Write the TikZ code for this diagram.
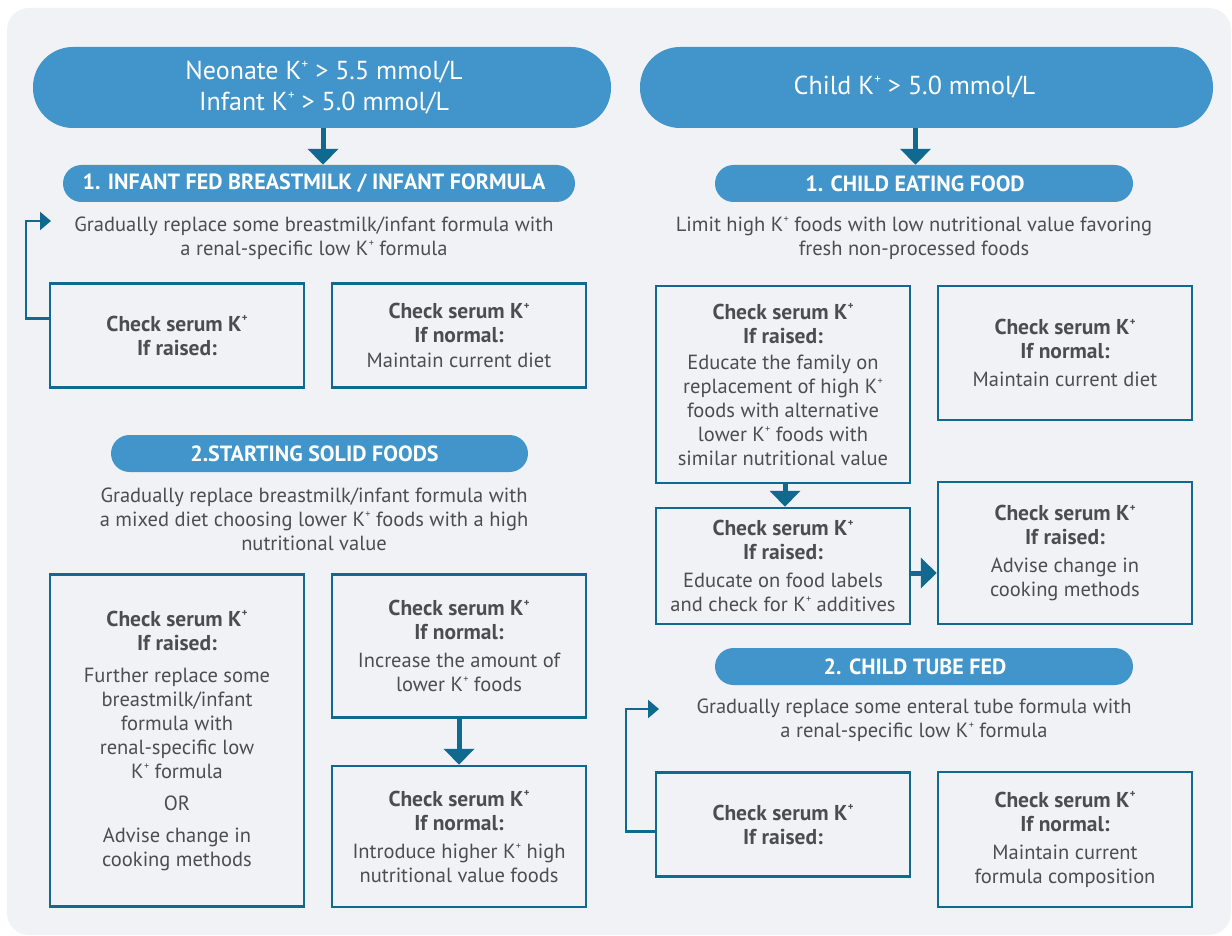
\documentclass[tikz,border=0pt]{standalone}
\usepackage{fontspec}
\setmainfont{PT Sans}
\usetikzlibrary{arrows.meta,calc}
\definecolor{bgc}{HTML}{F0F2F6}
\definecolor{pillc}{HTML}{4195CA}
\definecolor{tealc}{HTML}{106A8F}
\definecolor{txtc}{HTML}{4D4D4F}
\newcommand{\Kplus}{K\kern0.3pt\raisebox{0.85ex}{\scalebox{0.5}{+}}}
\begin{document}
\begin{tikzpicture}[x=1pt,y=-1pt,
  bodyfont/.style={font=\fontsize{20.5}{24}\selectfont},
  box/.style={draw=tealc, line width=2.5pt, text=txtc, align=center, inner sep=0pt, bodyfont},
  pill/.style={fill=pillc, rounded corners=18.5pt, text=white, inner sep=0pt, minimum height=37pt, font=\bfseries\fontsize{22}{24}\selectfont},
  titlepill/.style={fill=pillc, rounded corners=40pt, text=white, align=center, inner sep=0pt, minimum height=81pt, font=\fontsize{26}{31}\selectfont},
  intro/.style={text=txtc, align=center, inner sep=0pt, bodyfont},
  bigarrow/.style={draw=tealc, line width=5pt, -{Triangle[width=30pt,length=16pt]}},
  fbarrow/.style={draw=tealc, line width=2.5pt, -{Triangle[width=18pt,length=11pt]}}
]
\newcommand{\hd}[1]{{\bfseries\fontsize{21.5}{24}\selectfont #1}}
\useasboundingbox (0,0) rectangle (1232,936);
\fill[bgc, rounded corners=22pt] (7,8) rectangle (1231,935);

% left column
\node[titlepill, minimum width=578pt] (t1) at (322,87.5) {\hspace*{4pt}Neonate \Kplus{} > 5.5 mmol/L\\\hspace*{4pt}Infant \Kplus{} > 5.0 mmol/L};
\node[pill, minimum width=512pt] (s1) at (319,183.5) {1. INFANT FED BREASTMILK / INFANT FORMULA\hspace*{10pt}};
\node[intro] (i1) at (314,238) {Gradually replace some breastmilk/infant formula with\\a renal-specific low \Kplus{} formula};
\node[box, minimum width=254pt, minimum height=104pt] (A) at (177,335.5) {\hd{Check serum \Kplus}\\\hd{If raised:}};
\node[box, minimum width=254pt, minimum height=104pt] (B) at (459,335.5) {\hd{Check serum \Kplus}\\\hd{If normal:}\\[1pt]Maintain current diet};
\node[pill, minimum width=417pt] (s2) at (319.5,453.5) {2.STARTING SOLID FOODS\hspace*{10pt}};
\node[intro] (i2) at (314,519) {Gradually replace breastmilk/infant formula with\\a mixed diet choosing lower \Kplus{} foods with a high\\nutritional value};
\node[box, minimum width=254pt, minimum height=332pt] (C) at (177,740.5) {\hd{Check serum \Kplus}\\\hd{If raised:}\\[8pt]Further replace some\\breastmilk/infant\\formula with\\renal-specific low\\\Kplus{} formula\\[8pt]OR\\[8pt]Advise change in\\cooking methods};
\node[box, minimum width=254pt, minimum height=143pt] (D) at (459,646) {\hd{Check serum \Kplus}\\\hd{If normal:}\\[4pt]Increase the amount of\\lower \Kplus{} foods};
\node[box, minimum width=254pt, minimum height=141pt] (E) at (459,836.5) {\hd{Check serum \Kplus}\\\hd{If normal:}\\[4pt]Introduce higher \Kplus{} high\\nutritional value foods};

% right column
\node[titlepill, minimum width=573pt] (t2) at (926.5,87.5) {Child \Kplus{} > 5.0 mmol/L\hspace*{24pt}};
\node[pill, minimum width=418pt] (r1) at (924,183.5) {1. CHILD EATING FOOD\hspace*{18pt}};
\node[intro] (j1) at (914,238) {Limit high \Kplus{} foods with low nutritional value favoring\\fresh non-processed foods};
\node[box, minimum width=254pt, minimum height=197pt] (F) at (783,384.5) {\hd{Check serum \Kplus}\\\hd{If raised:}\\[2pt]Educate the family on\\replacement of high \Kplus\\foods with alternative\\lower \Kplus{} foods with\\similar nutritional value};
\node[box, minimum width=254pt, minimum height=134pt] (G) at (1065,353) {\hd{Check serum \Kplus}\\\hd{If normal:}\\[4pt]Maintain current diet};
\node[box, minimum width=254pt, minimum height=116pt] (H) at (783,566) {\hd{Check serum \Kplus}\\\hd{If raised:}\\[4pt]Educate on food labels\\and check for \Kplus{} additives};
\node[box, minimum width=254pt, minimum height=142pt] (I) at (1065,553) {\hd{Check serum \Kplus}\\\hd{If raised:}\\[4pt]Advise change in\\cooking methods};
\node[pill, minimum width=418pt] (r2) at (924,666.5) {2. CHILD TUBE FED\hspace*{18pt}};
\node[intro] (j2) at (914,720) {Gradually replace some enteral tube formula with\\a renal-specific low \Kplus{} formula};
\node[box, minimum width=254pt, minimum height=104pt] (J) at (783,824.5) {\hd{Check serum \Kplus}\\\hd{If raised:}};
\node[box, minimum width=254pt, minimum height=135pt] (K) at (1065,839.5) {\hd{Check serum \Kplus}\\\hd{If normal:}\\[4pt]Maintain current\\formula composition};

% arrows
\draw[bigarrow] ([xshift=1pt]t1.south) -- ([xshift=1pt]t1.south |- s1.north);
\draw[bigarrow] ([xshift=-11pt]t2.south) -- ([xshift=-11pt]t2.south |- r1.north);
\draw[bigarrow] (D.south) -- (E.north);
\draw[bigarrow] ([xshift=2pt]F.south) -- ([xshift=2pt]F.south |- H.north);
\coordinate (h1) at ($(H.east)+(0,7)$);
\draw[bigarrow] (h1) -- (h1 -| I.west);

\coordinate (la) at (51,221);
\draw[fbarrow] ([yshift=17pt]A.west) -- ++(-23,0) |- (la);
\coordinate (rb) at (659,709);
\draw[fbarrow] ([yshift=-7pt]J.west) -- ++(-29,0) |- (rb);
\end{tikzpicture}
\end{document}
